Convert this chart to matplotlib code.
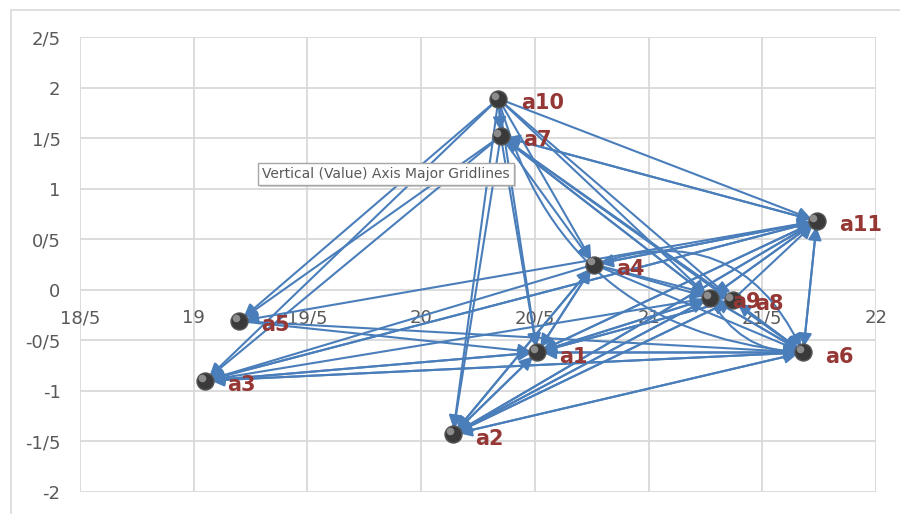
import matplotlib
matplotlib.use('Agg')
import matplotlib.pyplot as plt
from matplotlib.ticker import FuncFormatter

# node names and positions
names = ['a1', 'a2', 'a3', 'a4', 'a5', 'a6', 'a7', 'a8', 'a9', 'a10', 'a11']
xs = [20.51, 20.14, 19.05, 20.76, 19.20, 21.68, 20.35, 21.37, 21.27, 20.34, 21.74]
ys = [-0.62, -1.43, -0.90, 0.25, -0.31, -0.62, 1.52, -0.10, -0.08, 1.89, 0.68]

# directed edges (source -> target)
src = ['a10', 'a10', 'a10', 'a10', 'a10', 'a10', 'a10', 'a10', 'a10',
       'a7', 'a7', 'a7', 'a7', 'a7', 'a7', 'a7', 'a7', 'a7',
       'a11', 'a11', 'a11', 'a11', 'a11', 'a11', 'a11', 'a11',
       'a4', 'a4', 'a4', 'a4', 'a4', 'a4', 'a4',
       'a9', 'a9', 'a9', 'a9', 'a9', 'a9',
       'a8', 'a8', 'a8', 'a8',
       'a6', 'a6', 'a6', 'a6', 'a6', 'a6',
       'a1', 'a1', 'a1', 'a1', 'a1', 'a1', 'a1',
       'a2', 'a2', 'a2', 'a2', 'a2', 'a2',
       'a5', 'a5', 'a3', 'a3', 'a3']
dst = ['a7', 'a5', 'a3', 'a2', 'a1', 'a4', 'a9', 'a8', 'a11',
       'a5', 'a3', 'a2', 'a1', 'a4', 'a9', 'a8', 'a6', 'a11',
       'a7', 'a5', 'a4', 'a3', 'a1', 'a2', 'a9', 'a6',
       'a11', 'a9', 'a8', 'a3', 'a2', 'a1', 'a6',
       'a11', 'a1', 'a2', 'a6', 'a7', 'a3',
       'a11', 'a6', 'a1', 'a2',
       'a11', 'a1', 'a2', 'a3', 'a8', 'a9',
       'a11', 'a9', 'a6', 'a4', 'a3', 'a2', 'a8',
       'a1', 'a11', 'a6', 'a9', 'a4', 'a8',
       'a1', 'a6', 'a11', 'a1', 'a6']
# a few smoothed (curved) series
curved_src = ['a10', 'a4', 'a9']
curved_dst = ['a6', 'a6', 'a6']
curved_rad = [0.35, -0.45, 0.3]

xticks = [18.5, 19, 19.5, 20, 20.5, 21, 21.5, 22]
yticks = [-2, -1.5, -1, -0.5, 0, 0.5, 1, 1.5, 2, 2.5]

line_col = '#4a7ebb'
pos = dict(zip(names, zip(xs, ys)))

fig = plt.figure(figsize=(9, 5.14), dpi=100)
# chart area border
fig.patches.append(plt.Rectangle((0.012, -0.01), 0.99, 0.99, transform=fig.transFigure,
                                 fill=False, edgecolor='#d9d9d9', lw=1.2))
ax = fig.add_axes([80 / 900, 1 - 492 / 514, 796 / 900, 455 / 514])
ax.set_xlim(18.5, 22)
ax.set_ylim(-2, 2.5)
ax.set_xticks(xticks)
ax.set_yticks(yticks)

fmt = FuncFormatter(lambda v, p: ('%g' % v).replace('.', '/'))
ax.xaxis.set_major_formatter(fmt)
ax.yaxis.set_major_formatter(fmt)
ax.grid(True, color='#d9d9d9', lw=1.3)
ax.set_axisbelow(True)
for s in ax.spines.values():
    s.set_visible(False)
ax.spines['bottom'].set_position(('data', 0))
ax.tick_params(length=0, labelsize=13, labelcolor='#595959')
ax.tick_params(axis='x', pad=14)
ax.tick_params(axis='y', pad=14)

for s, d in zip(src, dst):
    ax.annotate('', xy=pos[d], xytext=pos[s],
                arrowprops=dict(arrowstyle='-|>', color=line_col, lw=1.5,
                                mutation_scale=20, shrinkA=0, shrinkB=4))
for s, d, r in zip(curved_src, curved_dst, curved_rad):
    ax.annotate('', xy=pos[d], xytext=pos[s],
                arrowprops=dict(arrowstyle='-|>', color=line_col, lw=1.5,
                                mutation_scale=20, shrinkA=0, shrinkB=4,
                                connectionstyle='arc3,rad=%s' % r))

ax.scatter(xs, ys, s=150, color='#3a3a3a', edgecolor='#555555', lw=1, zorder=5)
ax.scatter([x - 0.015 for x in xs], [y + 0.03 for y in ys], s=30, color='#8c8c8c',
           lw=0, zorder=6)

for n, x, y in zip(names, xs, ys):
    ax.annotate(n, (x, y), xytext=(16, -3), textcoords='offset points',
                fontsize=15, fontweight='bold', color='#953735', va='center', zorder=7)

# hover tooltip with shadow
fig.text(264 / 900, 1 - 176 / 514, 'Vertical (Value) Axis Major Gridlines',
         fontsize=10, color='#b0b0b0', va='center', ha='left', zorder=9, alpha=0,
         bbox=dict(boxstyle='square,pad=0.3', fc='#bfbfbf', ec='none', alpha=0.7))
fig.text(262 / 900, 1 - 174 / 514, 'Vertical (Value) Axis Major Gridlines',
         fontsize=10, color='#595959', va='center', ha='left', zorder=10,
         bbox=dict(boxstyle='square,pad=0.3', fc='white', ec='#a6a6a6', lw=1))

fig.savefig('out.png', dpi=100)
